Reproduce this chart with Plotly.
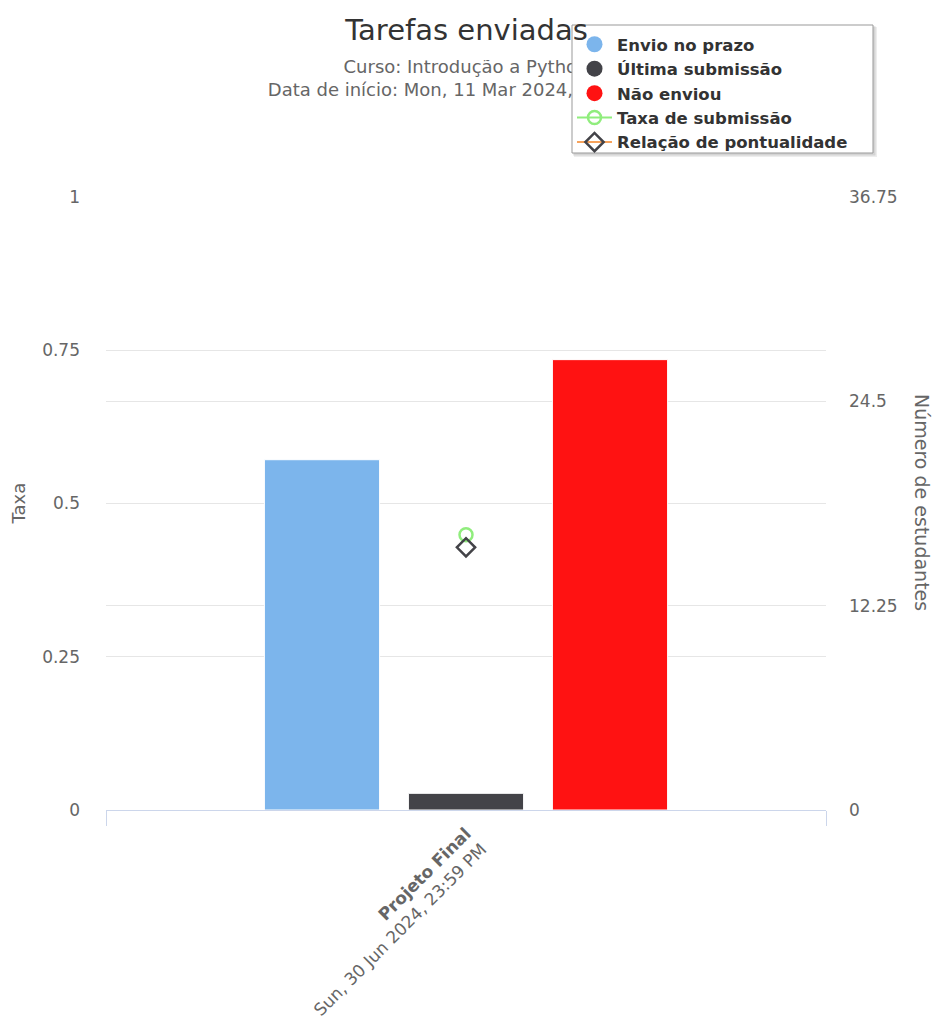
import plotly.graph_objects as go

# ---- data ----
categories = ["<b>Projeto Final</b><br>Sun, 30 Jun 2024, 23:59 PM"]
on_time = [21]          # Envio no prazo
late = [1]              # Última submissão
not_sent = [27]         # Não enviou
submission_rate = [0.449]    # Taxa de submissão
punctuality = [0.4286]       # Relação de pontualidade

left_ticks = [0, 0.25, 0.5, 0.75, 1]
left_tick_text = ["0", "0.25", "0.5", "0.75", "1"]
right_ticks = [0, 12.25, 24.5, 36.75]
right_tick_text = ["0", "12.25", "24.5", "36.75"]

title_text = "Tarefas enviadas"
subtitle_text = "Curso: Introdução a Python<br>Data de início: Mon, 11 Mar 2024, 00:00 AM"

FONT = "DejaVu Sans"
C_BLUE = "#7cb5ec"
C_DARK = "#434348"
C_RED = "#ff1212"
C_GREEN = "#90ed7d"
C_ORANGE = "#f7a35c"

W, H = 933, 1021
# plot area in pixels
L, R, T, B = 106, 826, 197, 810


def fx(p):
    return p / W


def fy(p):
    return 1 - p / H


fig = go.Figure()

# subtitle drawn in a hidden top subplot (data layer) so the legend box covers it
fig.add_trace(go.Scatter(x=[0.5], y=[0.5], mode="text", text=[subtitle_text],
                         textposition="middle center", xaxis="x2", yaxis="y3",
                         textfont=dict(family=FONT, size=18, color="#666666"),
                         showlegend=False, hoverinfo="skip"))

# legend-only circle markers for bar series
for name, col in [("Envio no prazo", C_BLUE), ("Última submissão", C_DARK), ("Não enviou", C_RED)]:
    fig.add_trace(go.Scatter(x=[None], y=[None], mode="markers", name=name,
                             marker=dict(symbol="circle", size=17, color=col),
                             showlegend=True, hoverinfo="skip"))

# bars on right axis
bar_line = dict(color="white", width=1)
fig.add_trace(go.Bar(x=categories, y=on_time, name="Envio no prazo",
                     marker=dict(color=C_BLUE, line=bar_line),
                     yaxis="y2", showlegend=False, offsetgroup="a"))
fig.add_trace(go.Bar(x=categories, y=late, name="Última submissão",
                     marker=dict(color=C_DARK, line=bar_line),
                     yaxis="y2", showlegend=False, offsetgroup="b"))
fig.add_trace(go.Bar(x=categories, y=not_sent, name="Não enviou",
                     marker=dict(color=C_RED, line=bar_line),
                     yaxis="y2", showlegend=False, offsetgroup="c"))

# rate series on left axis
fig.add_trace(go.Scatter(x=categories, y=submission_rate, mode="lines+markers",
                         name="Taxa de submissão",
                         line=dict(color=C_GREEN, width=2),
                         marker=dict(symbol="circle-open", size=13, color=C_GREEN,
                                     line=dict(width=2.5, color=C_GREEN))))
fig.add_trace(go.Scatter(x=categories, y=punctuality, mode="lines+markers",
                         name="Relação de pontualidade",
                         line=dict(color=C_ORANGE, width=2),
                         marker=dict(symbol="diamond-open", size=14, color=C_DARK,
                                     line=dict(width=2.5, color=C_DARK))))

# legend box (with soft shadow) drawn as shapes above the data
box_l, box_r, box_t, box_b = 572, 873, 25, 153
shapes = [
    dict(type="rect", xref="paper", yref="paper", layer="above",
         x0=fx(box_l + 2), x1=fx(box_r + 4), y0=fy(box_b + 4), y1=fy(box_t + 2),
         fillcolor="rgba(0,0,0,0.07)", line=dict(width=0)),
    dict(type="rect", xref="paper", yref="paper", layer="above",
         x0=fx(box_l + 1), x1=fx(box_r + 2.5), y0=fy(box_b + 2.5), y1=fy(box_t + 1),
         fillcolor="rgba(0,0,0,0.10)", line=dict(width=0)),
    dict(type="rect", xref="paper", yref="paper", layer="above",
         x0=fx(box_l), x1=fx(box_r), y0=fy(box_b), y1=fy(box_t),
         fillcolor="white", line=dict(color="#999999", width=1)),
]

fig.update_layout(
    width=W, height=H,
    margin=dict(l=0, r=0, t=0, b=0, autoexpand=False),
    paper_bgcolor="white", plot_bgcolor="rgba(0,0,0,0)",
    font=dict(family=FONT, color="#666666", size=17),
    barmode="group", bargap=0.4, bargroupgap=0.2,
    title=dict(text=title_text, x=0.5, xanchor="center",
               y=1 - 30 / H, yanchor="middle", yref="container",
               font=dict(family=FONT, size=29, color="#333333")),
    xaxis=dict(type="category", range=[-0.5, 0.5], tickangle=-45,
               domain=[fx(L), fx(R)], anchor="y",
               showline=True, linecolor="#ccd6eb", linewidth=1,
               ticks="outside", tickson="boundaries", ticklen=15, tickcolor="#ccd6eb",
               showgrid=False, tickfont=dict(size=17, color="#666666"),
               ticklabelstandoff=6),
    yaxis=dict(range=[0, 1], tickvals=left_ticks, ticktext=left_tick_text,
               domain=[fy(B), fy(T)], anchor="x",
               showgrid=True, gridcolor="#e6e6e6", zeroline=False, showline=False,
               tickfont=dict(size=17, color="#666666"), ticklabelstandoff=25),
    yaxis2=dict(range=[0, 36.75], tickvals=right_ticks, ticktext=right_tick_text,
                overlaying="y", side="right", anchor="x",
                showgrid=True, gridcolor="#e6e6e6", zeroline=False, showline=False,
                tickfont=dict(size=17, color="#666666"), ticklabelstandoff=22),
    xaxis2=dict(domain=[fx(L), fx(R)], range=[0, 1], anchor="y3", visible=False,
                fixedrange=True),
    yaxis3=dict(domain=[fy(100), fy(60)], range=[0, 1], anchor="x2", visible=False,
                fixedrange=True),
    legend=dict(x=box_l / W, xref="container", xanchor="left",
                y=1 - 27 / H, yref="container", yanchor="top",
                bgcolor="rgba(0,0,0,0)", borderwidth=0,
                font=dict(family=FONT, size=16.5, color="#333333", weight="bold"),
                tracegroupgap=0, itemsizing="trace", itemwidth=35),
    showlegend=True,
    shapes=shapes,
    annotations=[
        dict(text="Taxa", x=fx(18), y=fy((T + B) / 2), xref="paper", yref="paper",
             textangle=-90, showarrow=False, xanchor="center", yanchor="middle",
             font=dict(family=FONT, size=18, color="#666666")),
        dict(text="Número de estudantes", x=fx(922), y=fy(502),
             xref="paper", yref="paper", textangle=90, showarrow=False,
             xanchor="center", yanchor="middle",
             font=dict(family=FONT, size=19, color="#666666")),
    ],
)

fig.write_html("out.html")
